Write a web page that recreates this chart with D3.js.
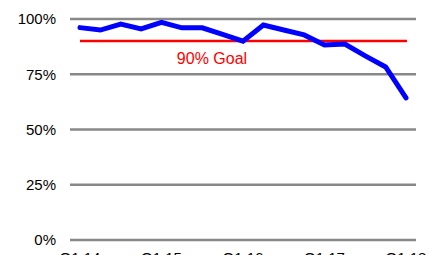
<!DOCTYPE html>
<html>
<head>
<meta charset="utf-8">
<script src="https://cdn.jsdelivr.net/npm/d3@7"></script>
<style>
  body { margin: 0; background: #fff; }
  text { font-family: "Liberation Sans", Arial, sans-serif; }
</style>
</head>
<body>
<div id="chart"></div>
<script>
// quarterly values, Q1 14 .. Q1 18
const quarters = ["Q1 14","Q2 14","Q3 14","Q4 14","Q1 15","Q2 15","Q3 15","Q4 15",
  "Q1 16","Q2 16","Q3 16","Q4 16","Q1 17","Q2 17","Q3 17","Q4 17","Q1 18"];
const values = [96.1, 95.0, 97.7, 95.5, 98.5, 96.0, 96.0, 93.0, 90.0,
  97.3, 95.0, 92.8, 88.2, 88.7, 83.3, 78.3, 64.3];
const yTicks = [0, 25, 50, 75, 100];
const xTickLabels = ["Q1 14", "Q1 15", "Q1 16", "Q1 17", "Q1 18"];
const goal = 90;

const width = 441, height = 255;
const svg = d3.select("#chart").append("svg")
  .attr("width", width).attr("height", height);

// plot area
const x = d3.scalePoint().domain(quarters).range([80, 406]);
const y = d3.scaleLinear().domain([0, 100]).range([240, 19]);

// grid lines
svg.append("g").selectAll("line").data(yTicks).join("line")
  .attr("x1", 70).attr("x2", 416)
  .attr("y1", d => y(d)).attr("y2", d => y(d))
  .attr("stroke", "#888").attr("stroke-width", 2.5);

// y labels
svg.append("g").selectAll("text").data(yTicks).join("text")
  .attr("x", 56).attr("y", d => y(d))
  .attr("dy", "0.35em")
  .attr("text-anchor", "end")
  .style("font-size", "15px").style("fill", "#000")
  .text(d => d + "%");

// x labels (cut off by bottom edge, like the original)
svg.append("g").selectAll("text").data(xTickLabels).join("text")
  .attr("x", d => x(d)).attr("y", 263)
  .attr("text-anchor", "middle")
  .style("font-size", "15px").style("fill", "#000")
  .text(d => d);

// goal line
svg.append("line")
  .attr("x1", x(quarters[0])).attr("x2", x(quarters[quarters.length - 1]) + 1)
  .attr("y1", y(goal)).attr("y2", y(goal))
  .attr("stroke", "#ff0000").attr("stroke-width", 2.5);

svg.append("text")
  .attr("x", 212).attr("y", 63.5)
  .attr("text-anchor", "middle")
  .style("font-size", "16px").style("fill", "#ff0000")
  .text("90% Goal");

// data line
const line = d3.line()
  .x((d, i) => x(quarters[i]))
  .y(d => y(d));

svg.append("path")
  .datum(values)
  .attr("d", line)
  .attr("fill", "none")
  .attr("stroke", "#0000ff")
  .attr("stroke-width", 5)
  .attr("stroke-linejoin", "miter")
  .attr("stroke-linecap", "round");
</script>
</body>
</html>
